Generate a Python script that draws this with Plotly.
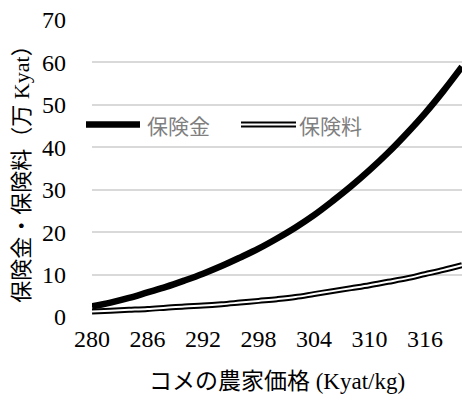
import plotly.graph_objects as go

# Rice farm-gate price (Kyat/kg)
price = [280, 282, 284, 286, 288, 290, 292, 294, 296, 298, 300,
         302, 304, 306, 308, 310, 312, 314, 316, 318, 320]
# Insurance payout (10,000 Kyat)
payout = [2.5, 3.4, 4.5, 5.8, 7.1, 8.6, 10.2, 12.0, 14.0, 16.1, 18.5,
          21.1, 24.0, 27.3, 30.8, 34.6, 38.7, 43.2, 48.0, 53.3, 59.0]
# Insurance premium (10,000 Kyat)
premium = [1.3, 1.5, 1.7, 1.9, 2.2, 2.5, 2.7, 3.0, 3.4, 3.8, 4.2,
           4.7, 5.4, 6.1, 6.8, 7.5, 8.3, 9.1, 10.1, 11.1, 12.2]

x_ticks = [280, 286, 292, 298, 304, 310, 316]
y_ticks = [0, 10, 20, 30, 40, 50, 60, 70]

series_names = ["保険金", "保険料"]
x_title = "コメの農家価格 (Kyat/kg)"
y_title = "保険金・保険料（万 Kyat）"

FONT = "Liberation Serif, 'Noto Sans CJK JP', serif"
SANS = "'Noto Sans CJK JP', 'Noto Sans', sans-serif"

fig = go.Figure()
fig.add_trace(go.Scatter(x=price, y=payout, mode="lines", name=series_names[0],
                         line=dict(color="black", width=6.5, shape="spline"),
                         showlegend=False))
# double line: black outer stroke with a white core
fig.add_trace(go.Scatter(x=price, y=premium, mode="lines", name=series_names[1],
                         line=dict(color="black", width=6, shape="spline"),
                         showlegend=False))
fig.add_trace(go.Scatter(x=price, y=premium, mode="lines", name=series_names[1],
                         line=dict(color="white", width=2, shape="spline"),
                         showlegend=False, hoverinfo="skip"))

W, H = 462, 400
ML, MR, MT, MB = 92, 0, 20, 83
pw, ph = W - ML - MR, H - MT - MB


def px_x(x):
    return (x - ML) / pw


def px_y(y):
    return (H - MB - y) / ph


# legend drawn inside the plot area
ly = 124.5
shapes = [
    dict(type="line", xref="paper", yref="paper", x0=px_x(86), x1=px_x(140),
         y0=px_y(ly), y1=px_y(ly), line=dict(color="black", width=6.5)),
    dict(type="line", xref="paper", yref="paper", x0=px_x(241), x1=px_x(296),
         y0=px_y(ly), y1=px_y(ly), line=dict(color="black", width=6)),
    dict(type="line", xref="paper", yref="paper", x0=px_x(241), x1=px_x(296),
         y0=px_y(ly), y1=px_y(ly), line=dict(color="white", width=2)),
]
annotations = [
    dict(xref="paper", yref="paper", x=px_x(145), y=px_y(ly), text=series_names[0],
         showarrow=False, xanchor="left", yanchor="middle",
         font=dict(family=SANS, size=21, color="#7f7f7f")),
    dict(xref="paper", yref="paper", x=px_x(297), y=px_y(ly), text=series_names[1],
         showarrow=False, xanchor="left", yanchor="middle",
         font=dict(family=SANS, size=21, color="#7f7f7f")),
]

fig.update_layout(
    width=W, height=H,
    margin=dict(l=ML, r=MR, t=MT, b=MB),
    paper_bgcolor="white", plot_bgcolor="white",
    font=dict(family=FONT, size=24, color="black"),
    shapes=shapes, annotations=annotations,
    showlegend=False,
)
fig.update_xaxes(
    range=[280, 320], tickvals=x_ticks, ticktext=[str(v) for v in x_ticks],
    showgrid=False, zeroline=False, showline=False, ticks="",
    ticklabelstandoff=5, tickfont=dict(size=24),
    title=dict(text=x_title, standoff=21, font=dict(family=FONT, size=23)),
)
fig.update_yaxes(
    range=[0, 70], tickvals=y_ticks, showgrid=True, gridcolor="#d9d9d9",
    gridwidth=1.5, zeroline=False, showline=False, ticks="",
    ticklabelstandoff=25, tickfont=dict(size=24),
    title=dict(text=y_title, standoff=6, font=dict(family=FONT, size=22)),
)

fig.write_html("out.html")
